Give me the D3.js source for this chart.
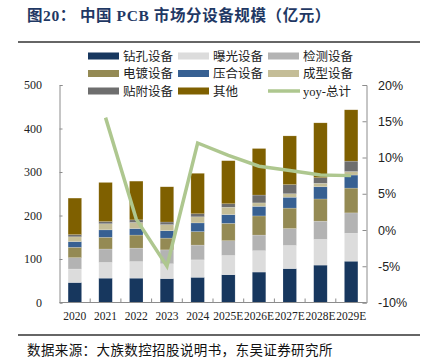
<!DOCTYPE html>
<html><head><meta charset="utf-8">
<script src="https://cdn.jsdelivr.net/npm/d3@7"></script>
<style>
body{margin:0;background:#fff;}
svg{display:block;}
</style></head>
<body>
<svg id="c" width="422" height="359"></svg>
<script>
const categories = ["2020","2021","2022","2023","2024","2025E","2026E","2027E","2028E","2029E"];
const seriesNames = ["钻孔设备","曝光设备","检测设备","电镀设备","压合设备","成型设备","贴附设备","其他"];
const drilling  = [46, 56, 56, 55, 58, 64, 70, 78, 86, 95];
const exposure  = [31, 36, 38, 34, 40, 44, 49, 53, 59, 64];
const inspect   = [26, 31, 31, 32, 34, 34, 36, 39, 42, 47];
const plating   = [24, 27, 30, 27, 31, 40, 44, 47, 51, 57];
const laminate  = [13, 17, 15, 17, 20, 20, 22, 25, 28, 30];
const forming   = [11, 14, 14, 14, 14, 17, 8, 8, 8, 8];
const attach    = [5, 5, 6, 6, 7, 8, 18, 21, 13, 24];
const others    = [84, 90, 89, 81, 93, 99, 107, 112, 126, 118];
const yoy       = [null, 15.5, 1.5, -5.0, 12.0, 10.3, 8.8, 8.2, 7.6, 7.5];
const leftTicks = [0,100,200,300,400,500];
const rightTicks = [-10,-5,0,5,10,15,20];

const colors = ["#17375e","#dcdcdc","#b3b3b3","#948a54","#376092","#c4bd97","#6e6e6e","#7f6000"];
const lineColor = "#aec78f";

const svg = d3.select("#c");
const serif = "'Liberation Serif','DejaVu Serif',serif";
const cjk = "'Noto Sans CJK SC','Noto Sans',sans-serif";

// title
const t = svg.append("text").attr("x",27).attr("y",21)
  .attr("font-family","'Liberation Serif','Noto Sans CJK SC',serif").attr("font-weight","bold")
  .attr("font-size",15.5).attr("fill","#1f3864").attr("letter-spacing",0.6);
t.append("tspan").text("图20：");
t.append("tspan").attr("dx",4).text("中国 PCB 市场分设备规模（亿元）");
svg.append("line").attr("x1",18).attr("x2",420).attr("y1",42).attr("y2",42)
  .attr("stroke","#333").attr("stroke-width",1.5);
svg.append("line").attr("x1",18).attr("x2",420).attr("y1",335).attr("y2",335)
  .attr("stroke","#333").attr("stroke-width",1.5);
svg.append("text").attr("x",27).attr("y",355)
  .attr("font-family",cjk).attr("font-size",13.5).attr("letter-spacing",0.4).attr("fill","#111")
  .text("数据来源：大族数控招股说明书，东吴证券研究所");

const x = d3.scaleBand().domain(categories).range([59.5,366.5]).paddingInner(0.56).paddingOuter(0.28);
const y = d3.scaleLinear().domain([0,500]).range([302.5,85]);
const y2 = d3.scaleLinear().domain([-10,20]).range([302.5,85]);

const data = categories.map((c,i)=>{
  const o = {cat:c};
  [drilling,exposure,inspect,plating,laminate,forming,attach,others].forEach((a,k)=>o[seriesNames[k]]=a[i]);
  return o;
});
const stack = d3.stack().keys(seriesNames)(data);

const g = svg.append("g");
stack.forEach((s,k)=>{
  g.selectAll(null).data(s).enter().append("rect")
    .attr("x",d=>x(d.data.cat))
    .attr("width",x.bandwidth())
    .attr("y",d=>y(d[1]))
    .attr("height",d=>y(d[0])-y(d[1]))
    .attr("fill",colors[k])
    .attr("stroke","rgba(255,255,255,0.35)").attr("stroke-width",0.5);
});

// axes
const axisColor = "#8c8c8c";
const la = svg.append("g").attr("transform","translate(59.5,0)")
  .call(d3.axisRight(y).tickValues(leftTicks).tickSize(3).tickFormat(""));
la.select(".domain").attr("stroke",axisColor);
la.selectAll(".tick line").attr("stroke",axisColor);
svg.append("g").selectAll(null).data(leftTicks).enter().append("text")
  .attr("x",42).attr("y",d=>y(d)+4).attr("text-anchor","end")
  .attr("font-family",serif).attr("font-size",12).attr("fill","#222").text(d=>d);

const ra = svg.append("g").attr("transform","translate(366.5,0)")
  .call(d3.axisLeft(y2).tickValues(rightTicks).tickSize(4).tickFormat(""));
ra.select(".domain").attr("stroke",axisColor);
ra.selectAll(".tick line").attr("stroke",axisColor);
svg.append("g").selectAll(null).data(rightTicks).enter().append("text")
  .attr("x",378).attr("y",d=>y2(d)+4.5).attr("text-anchor","start")
  .attr("font-family","'Liberation Sans',Arial,sans-serif").attr("font-size",12.5).attr("fill","#222").text(d=>d+"%");

// bottom axis
svg.append("line").attr("x1",59.5).attr("x2",366.5).attr("y1",302.5).attr("y2",302.5).attr("stroke",axisColor);
const step = x.step();
svg.append("g").selectAll(null).data(categories.slice(1)).enter().append("line")
  .attr("x1",d=>x(d)-(step-x.bandwidth())/2).attr("x2",d=>x(d)-(step-x.bandwidth())/2)
  .attr("y1",302.5).attr("y2",298.5).attr("stroke",axisColor);
svg.append("g").selectAll(null).data(categories).enter().append("text")
  .attr("x",d=>x(d)+x.bandwidth()/2).attr("y",320).attr("text-anchor","middle")
  .attr("font-family",serif).attr("font-size",11.5).attr("fill","#222").text(d=>d);

// yoy line
const line = d3.line().defined(d=>d.v!==null)
  .x(d=>x(d.c)+x.bandwidth()/2).y(d=>y2(d.v));
svg.append("path").datum(categories.map((c,i)=>({c,v:yoy[i]})))
  .attr("d",line).attr("fill","none").attr("stroke",lineColor).attr("stroke-width",3.5)
  .attr("stroke-linejoin","miter");

// legend
const legendItems = seriesNames.map((n,i)=>({name:n,color:colors[i],type:"rect"}));
legendItems.push({name:"yoy-总计",color:lineColor,type:"line"});
const colX = [88,178,268];
const rowY = [56,73.5,91];
legendItems.forEach((it,i)=>{
  const cx = colX[i%3], cy = rowY[Math.floor(i/3)];
  if(it.type==="rect"){
    svg.append("rect").attr("x",cx).attr("y",cy-3.5).attr("width",31).attr("height",7).attr("fill",it.color);
  } else {
    svg.append("line").attr("x1",cx).attr("x2",cx+32).attr("y1",cy).attr("y2",cy)
      .attr("stroke",it.color).attr("stroke-width",3.5);
  }
  svg.append("text").attr("x",cx+35).attr("y",cy+4.5)
    .attr("font-family","'Liberation Serif','Noto Sans CJK SC',serif").attr("font-size",12.5).attr("fill","#222").text(it.name);
});
</script>
</body></html>
